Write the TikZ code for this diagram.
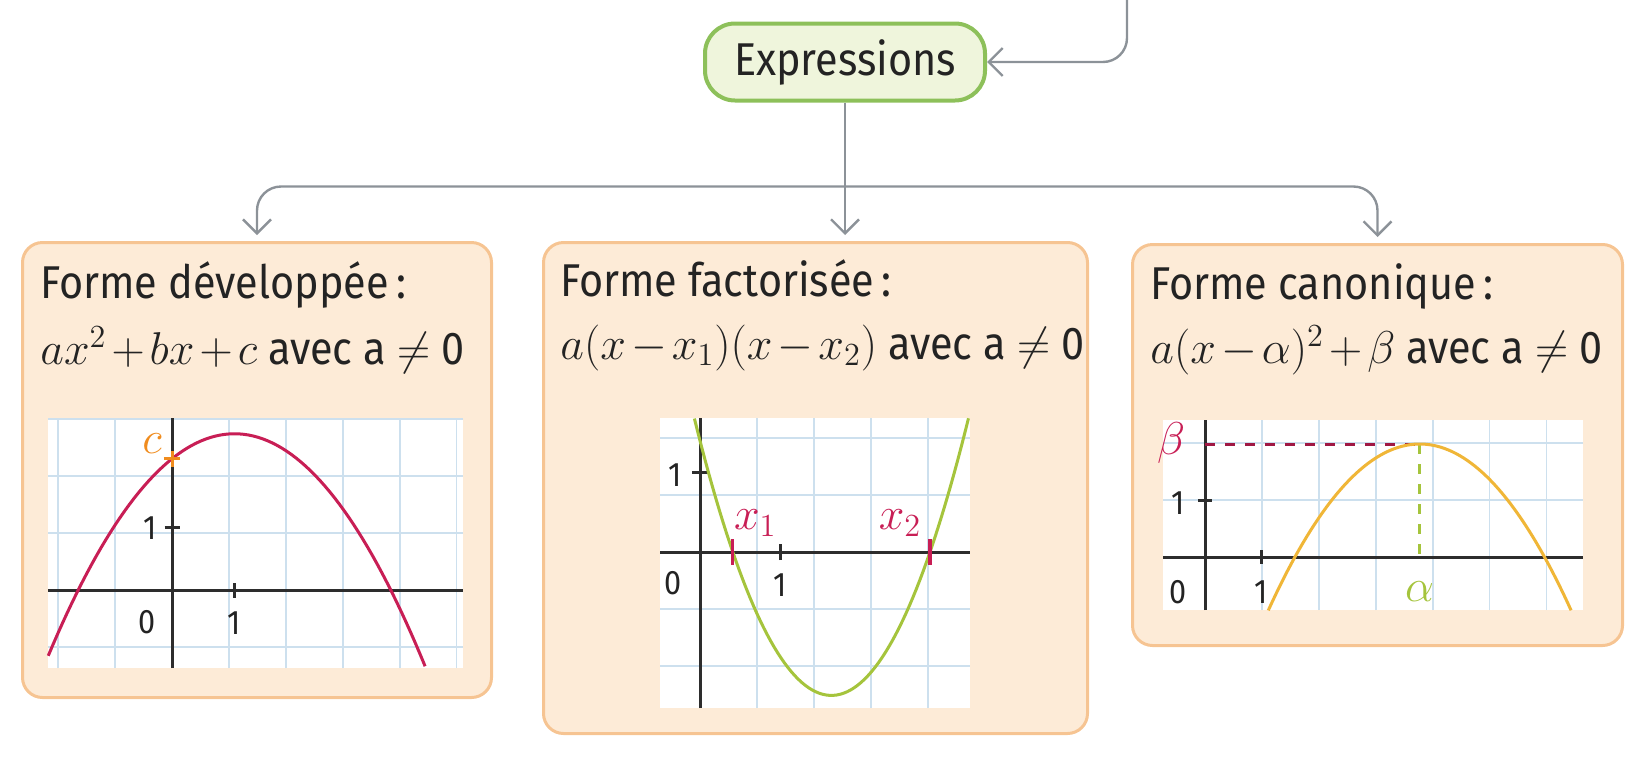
\RequirePackage{fix-cm}
\documentclass[tikz,border=0pt]{standalone}
\usepackage{amsmath}
\usepackage{fontspec}
\setmainfont{Fira Sans}[FakeStretch=0.9]
\usetikzlibrary{positioning,arrows.meta,calc}
\definecolor{textdark}{RGB}{35,35,35}
\definecolor{exprfill}{RGB}{239,245,220}
\definecolor{exprborder}{RGB}{141,192,90}
\definecolor{boxfill}{RGB}{253,235,215}
\definecolor{boxborder}{RGB}{246,196,146}
\definecolor{linkgray}{RGB}{140,146,152}
\definecolor{gridblue}{RGB}{205,224,238}
\definecolor{axisdark}{RGB}{45,45,45}
\definecolor{crimson}{RGB}{200,30,85}
\definecolor{orangec}{RGB}{240,140,30}
\definecolor{leafgreen}{RGB}{165,196,60}
\definecolor{goldcurve}{RGB}{240,182,55}
\newcommand\bigtxt{\fontsize{23}{28}\selectfont\medmuskip=2mu}
\newcommand\numtxt{\fontsize{17}{20}\selectfont}
\tikzset{
  exprbox/.style={draw=exprborder,line width=2pt,fill=exprfill,rounded corners=15pt,
            minimum width=140pt,minimum height=38.5pt,font=\bigtxt,text=textdark},
  formbox/.style={draw=boxborder,line width=1.5pt,fill=boxfill,rounded corners=10pt,
            anchor=north west,inner sep=0pt},
  boxtext/.style={anchor=base west,inner sep=0pt,font=\bigtxt,text=textdark},
  link/.style={draw=linkgray,line width=1.2pt,rounded corners=12pt,
            -{Straight Barb[length=7pt,width=14pt]}},
  gridline/.style={gridblue,line width=0.9pt},
  axis/.style={axisdark,line width=1.5pt},
  numlab/.style={font=\numtxt,text=textdark,inner sep=0pt},
  mathlab/.style={font=\bigtxt,inner sep=0pt},
  curvered/.style={crimson,line width=1.5pt},
  curvegreen/.style={leafgreen,line width=1.5pt},
  curvegold/.style={goldcurve,line width=1.5pt},
  roottick/.style={crimson,line width=1.6pt},
}

\begin{document}
\begin{tikzpicture}[x=0.5pt,y=-0.5pt]
  \useasboundingbox (0,0) rectangle (1628,772);
  % top node and the three forms
  \node[exprbox] (expr) at (845,62) {Expressions};
  \node[formbox,minimum width=234.5pt,minimum height=227.5pt] (dev) at (21,241) {};
  \node[formbox,minimum width=272pt,minimum height=245.5pt] (fact) at (542,241) {};
  \node[formbox,minimum width=245pt,minimum height=200.5pt] (canon) at (1131,243) {};

  \node[boxtext] (devt) at (40,298) {Forme développée\,:};
  \node[boxtext] (devf) at (40,364) {$ax^2+bx+c$ avec a $\neq$ 0};
  \node[boxtext] (factt) at (560,296) {Forme factorisée\,:};
  \node[boxtext] (factf) at (560,359) {$a(x-x_1)(x-x_2)$ avec a $\neq$ 0};
  \node[boxtext] (canont) at (1150,299) {Forme canonique\,:};
  \node[boxtext] (canonf) at (1150,363) {$a(x-\alpha)^2+\beta$ avec a $\neq$ 0};

  % connectors
  \coordinate (src) at (1127,0);
  \coordinate (split) at ($(expr.south)+(0,84)$);
  \draw[link] (src) |- (expr.east);
  \draw[link,shorten >=3pt] (expr.south) -- (expr.south |- fact.north);
  \draw[link,shorten >=3pt] (split) -| (dev.north);
  \draw[link,shorten >=3pt] (split) -| (canon.north);

  % graph of the developed form
  \coordinate (o1) at (172,590);
  \begin{scope}[shift={(o1)},x=31.25pt,y=31.25pt]
    \fill[white] (-1.98,-1.25) rectangle (4.66,2.75);
    \draw[gridline] (-1.98,-1.25) grid (4.66,2.75);
    \draw[axis] (-1.98,0) -- (4.66,0);
    \draw[axis] (0,-1.25) -- (0,2.75);
    \draw[axis] (1,-0.12) -- (1,0.12);
    \draw[axis] (-0.12,1) -- (0.12,1);
    \draw[curvered] plot[domain=-1.98:4.05,samples=80] (\x,{2.5-0.4*(\x-1)*(\x-1)});
    \draw[orangec,line width=1.5pt] (-0.13,2.1) -- (0.13,2.1) (0,1.97) -- (0,2.23);
    \node[numlab] (g1y) at (-0.35,0.99) {1};
    \node[numlab] (g1o) at (-0.4,-0.51) {0};
    \node[numlab] (g1x) at (1,-0.53) {1};
    \node[mathlab,text=orangec] (g1c) at (-0.32,2.35) {$c$};
  \end{scope}

  % graph of the factored form
  \coordinate (o2) at (700,552);
  \begin{scope}[shift={(o2)},x=40pt,y=40pt]
    \fill[white] (-0.5,-1.95) rectangle (3.375,1.675);
    \draw[gridline] (-0.5,-1.95) grid (3.375,1.675);
    \draw[axis] (-0.5,0) -- (3.375,0);
    \draw[axis] (0,-1.95) -- (0,1.675);
    \draw[axis] (1,-0.1) -- (1,0.1);
    \draw[axis] (-0.1,1) -- (0.1,1);
    \draw[curvegreen] plot[domain=-0.07:3.356,samples=80] (\x,{1.18*(\x-0.41)*(\x-2.875)});
    \draw[roottick] (0.41,-0.16) -- (0.41,0.16);
    \draw[roottick] (2.875,-0.16) -- (2.875,0.16);
    \node[numlab] (g2y) at (-0.31,0.96) {1};
    \node[numlab] (g2o) at (-0.34,-0.39) {0};
    \node[numlab] (g2x) at (1,-0.41) {1};
    \node[mathlab,text=crimson] (g2a) at (0.69,0.36) {$x_1$};
    \node[mathlab,text=crimson] (g2b) at (2.5,0.36) {$x_2$};
  \end{scope}

  % graph of the canonical form
  \coordinate (o3) at (1205,557);
  \begin{scope}[shift={(o3)},x=28.25pt,y=28.25pt]
    \fill[white] (-0.74,-0.94) rectangle (6.69,2.42);
    \draw[gridline] (-0.74,-0.94) grid (6.69,2.42);
    \draw[axis] (-0.74,0) -- (6.69,0);
    \draw[axis] (0,-0.94) -- (0,2.42);
    \draw[axis] (1,-0.12) -- (1,0.12);
    \draw[axis] (-0.12,1) -- (0.12,1);
    \draw[crimson!80!black,line width=1.5pt,dash pattern=on 5pt off 5pt] (0,2) -- (3.8,2);
    \draw[leafgreen,line width=1.5pt,dash pattern=on 5pt off 5pt] (3.8,2) -- (3.8,0);
    \draw[curvegold] plot[domain=1.12:6.48,samples=80] (\x,{2-0.41*(\x-3.8)*(\x-3.8)});
    \node[numlab] (g3y) at (-0.48,0.96) {1};
    \node[numlab] (g3o) at (-0.48,-0.62) {0};
    \node[numlab] (g3x) at (1,-0.62) {1};
    \node[mathlab,text=crimson] (g3b) at (-0.6,2.02) {$\beta$};
    \node[mathlab,text=leafgreen] (g3a) at (3.8,-0.62) {$\alpha$};
  \end{scope}
\end{tikzpicture}
\end{document}
